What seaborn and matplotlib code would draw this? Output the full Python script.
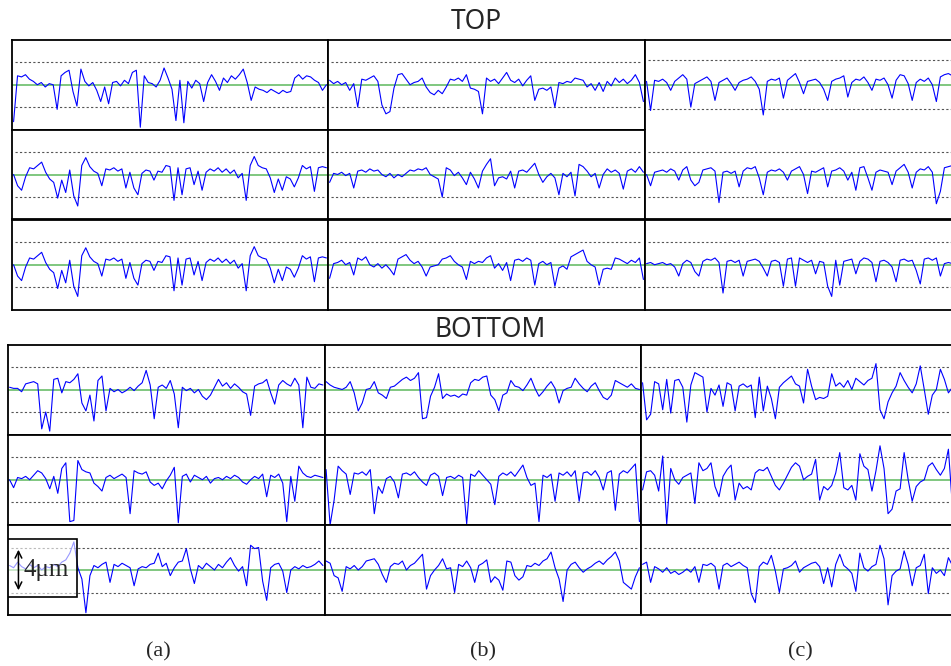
import numpy as np
import matplotlib
matplotlib.use('Agg')
import matplotlib.pyplot as plt
import seaborn as sns
from matplotlib.patches import Rectangle

# surface profiles, height in um relative to the mean line (green)
# TOP surface, rows 1-3, columns (a) (b) (c)
top_a1 = [-3.3, 0.8, 0.7, 0.9, 0.5, 0.3, 0.0, 0.2, -0.2, 0.1, 0.0, -2.2, 0.8, 1.1, 1.3, -0.6, -1.9, 1.4,
          0.3, -0.1, 0.2, -0.5, -1.5, -0.2, -1.7, 0.2, 0.3, -0.1, 0.4, 0.1, 1.1, 1.3, -3.8, 0.8, 0.2, 0.1,
          -0.2, 0.4, 1.5, 0.6, -0.4, -3.2, 0.4, -3.4, 0.3, -0.3, 0.4, 0.1, -1.5, 0.2, 0.9, 0.3, -0.5, 0.6,
          0.2, 0.8, 0.5, 0.9, 1.4, 0.2, -1.4, -0.2, -0.4, -0.5, -0.7, -0.4, -0.6, -0.8, -0.5, -0.7, -0.6,
          0.6, 0.9, 0.5, 0.8, 0.7, 0.4, 0.2, -0.5, 0.0]
top_b1 = [0.4, 0.1, 0.3, 0.0, 0.2, -0.5, 0.1, -2.0, 0.5, 0.4, 0.6, 0.8, 0.3, -1.8, -2.6, -2.4, -0.3, 0.9,
          1.0, 0.5, 0.0, 0.2, 0.3, 0.6, -0.2, -0.7, -0.9, -0.5, -0.8, -0.2, 0.5, 0.4, 0.6, 0.3, 0.9, -0.3,
          -0.4, -0.6, -2.6, 0.6, 0.3, 0.5, 0.1, 0.6, 1.1, 0.4, 0.2, 0.5, -0.1, 0.4, 0.8, -1.4, -0.4, -0.3,
          -0.5, -0.2, -2.0, 0.2, 0.1, 0.3, 0.2, 0.6, 0.5, 0.4, -0.2, 0.1, -0.5, 0.2, -0.6, 0.3, -0.1, 0.6,
          0.2, 0.5, 0.1, 0.4, 0.9, 0.2, -1.5]
top_c1 = [0.3, -2.3, 0.4, 0.3, 0.5, 0.2, -0.5, 0.3, 0.6, 0.9, 0.5, -2.0, 0.1, 0.3, 0.5, 0.7, 0.3, -1.4,
          0.2, 0.4, 0.6, 0.1, -0.5, 0.2, 0.4, 0.5, 0.7, 0.3, -0.4, -2.7, 0.3, 0.5, 0.4, 0.6, -1.2, 0.4,
          0.7, 1.0, 0.2, -0.8, 0.3, 0.4, 0.5, 0.2, -0.4, -1.4, 0.3, 0.5, 0.6, 0.8, -1.1, 0.2, 0.5, 0.4,
          0.7, 0.2, -0.5, 0.5, 0.4, 0.6, 0.0, -1.2, 0.4, 0.9, 0.8, 0.1, -1.4, 0.2, 0.5, 0.3, 0.6, 0.0,
          -1.5, 0.7, 0.9, 1.0, 0.8]
top_a2 = [0.0, -1.0, -1.4, -0.2, 0.6, 0.5, 0.8, 1.1, 0.2, -0.4, -0.7, -2.1, -0.5, -1.6, 0.4, -1.9, -2.8,
          0.8, 1.5, 0.7, 0.3, 0.1, -1.0, 0.5, 0.4, 0.6, 0.3, 0.5, -1.2, 0.2, -1.2, -1.8, 0.1, 0.4, 0.3,
          -0.5, 0.3, 0.2, 0.8, 0.7, -2.3, 0.6, -1.8, 0.5, 0.6, -0.9, 0.3, -1.4, 0.2, 0.5, 0.3, 0.6, 0.2,
          0.5, 0.1, 0.4, -0.3, 0.1, -2.3, 0.8, 1.6, 0.8, 0.6, 0.5, -0.3, -1.6, -0.4, -1.4, -0.2, -0.4,
          -1.1, -0.3, 0.8, 0.5, 0.7, -1.5, 0.6, 0.7, 0.6]
top_b2 = [-0.7, 0.1, 0.0, 0.2, -0.1, 0.1, -1.2, 0.3, 0.4, 0.2, 0.5, 0.3, 0.4, 0.0, -0.2, 0.1, -0.3, 0.0,
          -0.2, 0.1, 0.4, 0.3, 0.5, 0.4, 0.6, 0.0, -0.2, -0.4, -2.0, 0.6, 0.4, -0.1, 0.2, -0.3, -0.9, 0.2,
          -0.4, -1.2, 0.3, 0.9, 1.4, -1.0, -0.3, -0.2, -0.4, 0.3, -1.2, 0.3, 0.4, 0.2, 0.6, 1.0, 0.0, -0.7,
          -0.2, 0.1, -0.3, -1.8, 0.1, -0.2, 0.2, -1.9, 0.9, 0.7, 0.3, -0.2, 0.1, -1.2, 0.0, 0.5, 0.2, 0.4,
          0.1, -1.3, 0.3, 0.5, 0.2, 0.7, 0.2]
top_c2 = [0.0, -1.0, 0.2, 0.3, 0.4, 0.2, 0.5, 0.3, -0.5, 0.4, 0.7, -0.5, -1.0, -0.7, 0.4, 0.5, 0.6, 0.3,
          -2.5, 0.2, 0.3, 0.1, 0.3, -1.1, 0.3, 0.6, 0.5, 0.7, -0.3, -1.8, 0.2, 0.4, 0.3, 0.5, 0.2, -0.5,
          0.3, 0.5, 0.7, 0.0, -1.7, 0.3, 0.2, 0.4, 0.6, -1.1, 0.3, 0.4, 0.6, 0.3, -0.5, 0.2, -1.4, 0.6,
          0.7, -0.3, -1.4, 0.2, 0.4, 0.3, 0.2, -0.9, 0.3, 0.6, 0.9, 0.2, -1.2, 0.2, 0.5, 0.4, 0.7, 0.2,
          -2.6, -1.5, 0.6, 0.7, 0.8]
top_a3 = top_a2  # the third (a) trace repeats the second one in the source figure
top_b3 = [-1.2, 0.1, 0.2, 0.4, 0.0, 0.2, -0.9, 0.6, 0.4, 0.7, 0.0, -0.2, 0.1, -0.3, 0.0, -0.4, -0.9, 0.5,
          0.7, 0.9, 0.4, 0.1, 0.3, -0.2, -1.0, -0.2, -0.1, 0.0, 0.5, 0.6, 0.8, 0.3, 0.0, -0.2, -1.3, 0.3,
          0.1, 0.3, 0.2, 0.6, 0.8, -0.3, 0.1, -0.5, 0.2, -1.4, 0.4, 0.5, 0.3, 0.6, 0.4, -1.8, 0.1, 0.3,
          0.0, 0.2, -1.9, -0.3, -0.1, -0.4, 0.7, 0.9, 1.1, 1.3, 0.3, 0.0, -0.2, -1.8, -0.4, -0.3, -0.4,
          0.6, 0.5, 0.3, 0.1, 0.4, 0.2, 0.6, -1.3]
top_c3 = [0.1, 0.2, 0.0, 0.1, 0.2, 0.0, 0.1, -0.2, -1.0, 0.1, 0.4, 0.2, -0.6, -1.0, 0.3, 0.5, 0.4, 0.6,
          0.2, -2.5, 0.3, 0.4, 0.2, 0.4, -1.0, 0.3, 0.4, 0.5, 0.3, -0.3, -1.0, 0.3, 0.4, 0.2, -1.9, 0.5,
          0.6, -1.9, 0.6, 0.4, 0.2, 0.4, -0.8, 0.3, 0.2, -1.9, -2.8, 0.4, -1.8, 0.3, 0.4, 0.5, -0.8, 0.3,
          0.6, 0.5, 0.2, -1.5, 0.3, 0.4, 0.2, -0.2, -1.5, 0.4, 0.5, 0.3, 0.4, -0.5, -1.7, 0.5, 0.6, 0.4,
          0.6, -1.0, 0.1, 0.2, 0.1]

# BOTTOM surface
bot_a1 = [0.2, 0.1, 0.1, -0.2, 0.5, 0.6, 0.7, 0.5, -3.5, -2.0, -3.7, 0.9, 1.0, -0.3, 0.7, 0.6, 0.9, 1.4,
          -1.2, -1.9, -0.5, -2.8, 0.8, 1.2, -1.9, 0.1, -0.2, 0.0, -0.3, -0.1, 0.2, -0.1, 0.3, 0.6, 1.7,
          0.4, -2.6, 0.2, 0.4, 0.1, 0.8, -0.4, -3.4, 0.2, -0.1, 0.1, -0.3, 0.0, -0.6, -0.9, -0.5, 0.2,
          0.9, 0.3, 0.6, 0.1, 0.5, 0.2, -0.2, -0.4, -2.3, 0.3, 0.5, 0.6, 0.9, -0.3, -1.3, 0.4, 0.8, 0.5,
          0.3, 1.0, 0.4, -3.4, 1.1, 0.2, 0.1, 0.5, 0.4]
bot_b1 = [0.7, 0.4, 0.2, 0.1, 0.0, 0.2, 0.7, -0.3, -1.9, -1.2, 0.0, 0.1, 0.7, -0.3, -0.5, -0.8, 0.2, 0.3,
          0.6, 0.9, 1.1, 0.8, 1.0, 1.5, -2.6, -2.5, -0.6, 0.2, 1.4, -0.8, -0.4, -0.6, -0.5, -0.7, -0.4,
          -0.5, 0.6, 0.9, 0.8, 1.1, 1.2, -0.5, -0.9, -1.9, -0.5, -0.3, 0.8, 0.3, 0.2, -0.1, 0.4, 1.0, 0.1,
          -0.6, -0.2, 0.3, 0.7, 0.1, -1.2, -0.1, 0.1, 0.2, 1.0, 0.5, 0.1, -0.2, 0.3, 0.6, -0.1, -0.7,
          -0.9, -0.5, 0.8, 0.6, 0.4, 0.2, 0.5, 0.1, 0.0]
bot_c1 = [0.6, -2.7, -2.2, 0.7, 0.5, -1.8, 0.9, -2.1, 0.8, 0.9, 0.2, -2.9, 0.4, 1.5, 1.3, 1.1, -2.0, 0.1,
          -0.5, 0.4, -1.5, 0.6, 0.4, -1.9, 0.3, 0.5, 0.2, 0.4, -2.5, 1.1, -1.9, 0.3, -0.8, -2.6, 0.2, 0.6,
          0.9, 1.2, 0.5, 0.3, -1.2, 1.8, 0.3, -0.9, -0.7, -0.8, -0.6, 1.4, 0.3, 0.6, 0.2, 0.8, 0.0, 1.0,
          0.7, 0.4, 0.8, 1.0, 2.3, -1.8, -2.6, -1.1, -0.3, 0.3, 1.5, 0.8, 0.2, -0.3, 0.5, 2.1, 0.0, -2.2,
          -0.5, 0.0, 1.8, 0.9, -0.3, 0.2]
bot_a2 = [0.0, -0.7, 0.2, 0.1, 0.3, 0.0, 0.4, 0.8, 0.6, 0.1, -0.8, 0.3, -1.2, 1.0, 1.5, -3.7, -3.6, 1.7,
          0.9, 0.7, 0.6, -0.3, -0.6, -1.0, 0.2, 0.4, 0.1, 0.3, 0.5, 0.2, -3.0, 0.8, 0.6, 0.5, 0.7, -0.2,
          -0.5, -0.3, -0.8, -0.1, 0.4, 1.1, -3.8, 0.3, 0.5, -0.2, 0.4, 0.2, 0.0, 0.3, -0.3, 0.1, 0.2, 0.0,
          0.3, 0.1, 0.4, 0.2, -0.2, -0.4, 0.0, 0.3, 0.1, 0.5, -1.5, 0.4, 0.2, 0.5, -0.3, -3.7, 0.3, -1.9,
          1.2, 0.6, 0.3, 0.2, 0.4, 0.3, 0.2]
bot_b2 = [0.9, -4.0, -1.8, 1.2, 0.8, 0.5, -1.3, 0.6, 0.5, 0.7, 0.4, 0.9, -3.0, -0.6, -1.2, 0.1, 0.3, -0.2,
          -1.6, 0.5, 0.6, 0.4, 0.7, 0.2, -0.2, -0.5, 0.4, 0.6, 0.3, -1.4, 0.2, 0.3, 0.1, 0.4, 0.2, -3.9,
          0.5, 0.3, 0.8, 0.4, 0.0, -0.4, -2.2, 0.3, 0.6, 0.4, 0.7, 0.3, 0.8, 1.3, 0.2, -0.5, -0.3, -3.7,
          0.4, 0.2, 0.5, -1.9, 0.6, 0.4, 0.7, 0.3, 0.8, -1.9, 0.6, 0.7, 0.4, 0.8, 0.2, -0.9, 0.6, 0.8,
          -2.7, 0.5, 0.8, 0.6, 1.0, 1.4, -3.7]
bot_c2 = [-0.9, 0.7, 0.8, 0.4, -1.0, 2.1, -3.9, 1.0, 0.0, -0.4, 0.2, 0.4, 0.6, -2.1, 1.5, 0.8, 1.0, 1.5,
          -0.6, -1.5, 0.3, 0.9, 1.3, -1.8, -0.3, -0.8, -0.6, -0.9, 0.6, 0.9, 0.8, 1.1, 0.3, -0.5, -0.9,
          -0.3, 0.4, 1.1, 1.5, 1.2, 0.0, 0.3, 0.5, 1.8, -1.8, -0.6, -0.9, -0.5, 0.6, 2.4, -0.7, -0.9, -0.5,
          -1.8, 2.3, 1.2, 0.9, -1.0, 0.8, 3.0, 1.0, -3.0, -2.6, -1.0, -0.8, 2.4, 0.0, -1.9, -0.6, -0.2,
          0.0, 1.2, 1.5, 0.9, 0.4, 1.0, 2.7, -2.4]
bot_a3 = [0.4, 0.2, 0.7, 0.3, 0.1, 0.5, 0.2, 0.4, 0.0, 0.3, 0.2, 0.5, 0.3, 0.7, 0.9, 1.5, 2.5, 0.2, -0.8,
          -3.8, -0.5, 0.4, 0.2, 0.5, 0.7, -1.1, 0.5, 0.3, 0.6, 0.4, 0.2, -1.4, 0.1, 0.3, 0.2, 0.5, 0.6,
          1.5, 0.3, 0.6, -0.5, 0.2, 0.7, 0.8, 1.9, 0.1, -1.2, 0.4, 0.1, 0.6, 0.3, 0.0, 0.5, 0.2, 0.7, 1.1,
          0.4, -0.1, 0.3, -1.4, 2.2, 1.9, 2.0, -1.0, -2.7, 0.2, 0.5, 0.6, -0.1, -2.0, 0.0, 0.3, 0.1, 0.4,
          0.2, 0.3, 0.5, 0.8, 0.4]
bot_b3 = [0.8, 0.6, -0.5, -0.7, -1.9, 0.3, 0.1, 0.4, 0.0, 0.3, 0.8, 0.9, 1.0, 0.5, -0.4, -1.1, 0.3, 0.6,
          0.5, 0.8, 0.0, 0.4, 0.6, 1.0, 1.4, -1.7, -0.5, 0.0, 0.4, 1.0, 0.1, 0.2, -2.0, 0.5, 0.3, 0.8,
          0.2, -1.1, 0.4, 0.6, 0.9, -1.1, -0.6, -0.9, -1.8, 0.8, 0.7, -0.5, -0.9, -0.6, 0.4, 0.3, 0.6, 0.4,
          0.8, 1.0, 1.6, 0.2, -0.8, -2.8, 0.0, 0.5, 0.7, 0.2, -0.2, 0.1, 0.3, 0.6, 0.8, 0.5, 0.9, 1.2, 1.6,
          0.8, -1.1, -1.4, -1.7, -0.6, 0.2]
bot_c3 = [0.5, 0.7, -1.1, 0.3, 0.1, -0.2, 0.2, -0.3, -0.1, -0.4, -0.2, 0.1, -0.2, 0.3, -1.1, 0.5, 0.4,
          0.6, 0.3, -1.7, 0.4, 0.6, 0.3, 0.5, 0.7, 0.4, 0.2, -2.1, -2.9, 0.3, 0.7, 0.5, 1.3, -0.1, -2.0,
          0.1, 0.2, 0.4, 0.8, -0.2, 0.2, 0.4, 0.6, 0.7, 0.3, -1.2, 0.2, -1.5, 0.5, 1.4, 0.4, 0.1, -0.3,
          -1.9, 1.5, 0.2, -0.1, 0.3, 0.5, 2.2, 1.0, -3.1, -0.5, -0.1, 0.1, 1.7, 0.5, -1.4, 0.2, 0.4, 1.4,
          -2.1, 0.2, -0.3, 0.0, -0.5, 1.1, 0.4]

top_profiles = [[top_a1, top_b1, top_c1], [top_a2, top_b2, top_c2], [top_a3, top_b3, top_c3]]
bot_profiles = [[bot_a1, bot_b1, bot_c1], [bot_a2, bot_b2, bot_c2], [bot_a3, bot_b3, bot_c3]]
col_labels = ['(a)', '(b)', '(c)']

sns.set_style('white')

W, H = 951, 666
fig = plt.figure(figsize=(W / 100, H / 100), dpi=100)


def px_axes(x0, y0, x1, y1):
    return fig.add_axes([x0 / W, 1 - y1 / H, (x1 - x0) / W, (y1 - y0) / H])


def draw_panel(ax, vals, band=2.0):
    xs = np.linspace(0.005, 0.995, len(vals))
    ax.axhline(0, color='#5cb85c', lw=1.1, zorder=1)
    for b in (band, -band):
        ax.axhline(b, color='#555555', lw=0.8, ls=(0, (2, 2)), xmin=0.01, xmax=0.99, zorder=1)
    sns.lineplot(x=xs, y=vals, ax=ax, color='#0000ff', lw=0.8, estimator=None, zorder=2)
    ax.set_xlim(0, 1)
    ax.set_ylim(-4, 4)
    ax.set_xticks([])
    ax.set_yticks([])
    ax.set_xlabel('')
    ax.set_ylabel('')
    for s in ax.spines.values():
        s.set_color('black')
        s.set_linewidth(1.3)


groups = [
    (top_profiles, [12, 328, 645, 954], [40, 129.5, 219.5, 310]),
    (bot_profiles, [8, 324.5, 641, 954], [344.5, 434.5, 525, 615]),
]
axes = {}
for g, (profiles, cols, rows) in enumerate(groups):
    for r in range(3):
        for c in range(3):
            ax = px_axes(cols[c], rows[r], cols[c + 1], rows[r + 1])
            band = 2.2 if (g == 0 and r == 0 and c == 2) else 2.0
            draw_panel(ax, profiles[r][c], band)
            axes[(g, r, c)] = ax

# top group: no line between rows 1 and 2 of column (c)
axes[(0, 0, 2)].spines['bottom'].set_visible(False)
axes[(0, 1, 2)].spines['top'].set_visible(False)

# scale bar in the bottom-left panel
ax = axes[(1, 2, 0)]
ax.add_patch(Rectangle((0, 0.197), 0.218, 0.644, transform=ax.transAxes,
                       facecolor='white', alpha=0.6, edgecolor='none', zorder=3))
ax.add_patch(Rectangle((0, 0.197), 0.218, 0.644, transform=ax.transAxes,
                       facecolor='none', edgecolor='black', lw=1.2, zorder=4))
ax.annotate('', xy=(0.033, 2.05), xytext=(0.033, -2.05),
            xycoords=ax.get_yaxis_transform(), textcoords=ax.get_yaxis_transform(),
            arrowprops=dict(arrowstyle='<->', color='black', lw=1.1, mutation_scale=12), zorder=5)
ax.text(0.12, 0.0, '4\u03bcm', transform=ax.get_yaxis_transform(), ha='center', va='center',
        fontsize=18, family='Liberation Serif', zorder=5)

fig.text(476 / W, 1 - 22 / H, 'TOP', ha='center', va='center', fontsize=19, family='Noto Sans')
fig.text(490 / W, 1 - 330 / H, 'BOTTOM', ha='center', va='center', fontsize=19, family='Noto Sans')
for x, lab in zip([158, 483, 800], col_labels):
    fig.text(x / W, 1 - 652 / H, lab, ha='center', va='center', fontsize=16, family='Liberation Serif')

fig.savefig('out.png', dpi=100)
